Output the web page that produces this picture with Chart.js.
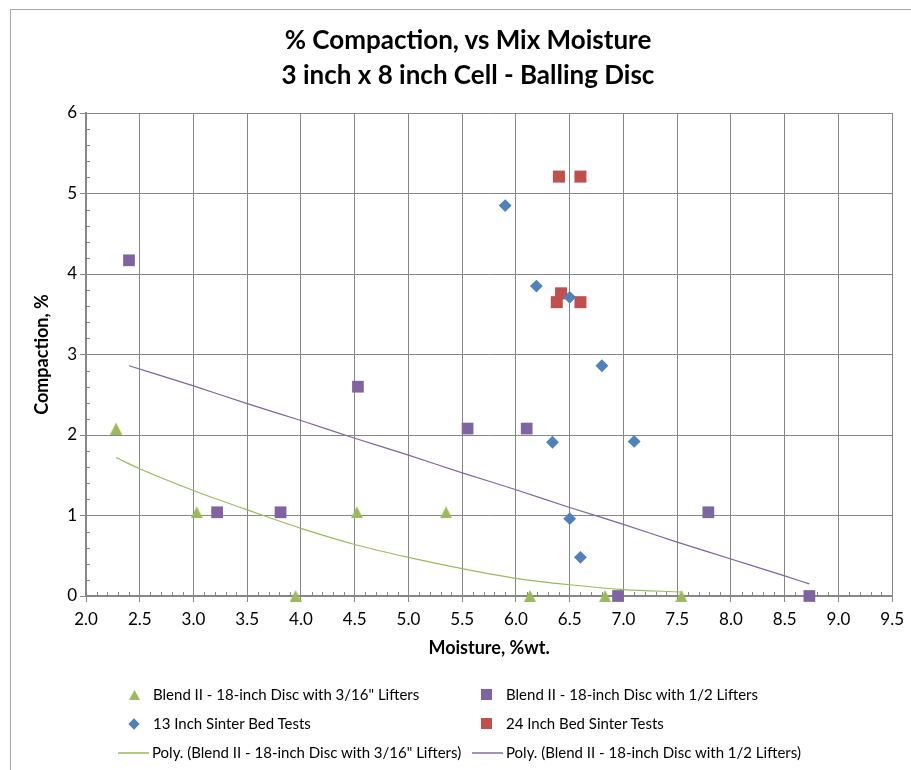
<!DOCTYPE html>
<html>
<head>
<meta charset="utf-8">
<script src="https://cdn.jsdelivr.net/npm/chart.js@4.4.1/dist/chart.umd.min.js"></script>
<style>
  html, body { margin: 0; padding: 0; background: #fff; width: 911px; height: 770px; overflow: hidden; }
  #frame { position: absolute; left: 10px; top: 9px; width: 1000px; height: 1000px; border: 1px solid #a6a6a6; box-sizing: border-box; }
  #chart { position: absolute; left: 0; top: 0; }
  #title { position: absolute; left: 10px; width: 916px; top: 22px; text-align: center;
           font: bold 26px Lato, sans-serif; line-height: 35px; color: #000; }
  .leg { position: absolute; font: 15px Lato, sans-serif; color: #000; white-space: nowrap; line-height: 18px; }
  .mk { position: absolute; }
  .tri { width: 11px; height: 10px; background: #9BBB59; clip-path: polygon(50% 0, 100% 100%, 0 100%); }
  .dia { width: 8px; height: 8px; background: #4F81BD; transform: rotate(45deg); }
  .sq { width: 11px; height: 11px; }
  .ln { width: 31px; height: 2px; }
</style>
</head>
<body>
<div id="frame"></div>
<canvas id="chart" width="911" height="770"></canvas>
<div id="title">% Compaction, vs Mix Moisture<br>3 inch x 8 inch Cell - Balling Disc</div>

<div class="mk tri" style="left:129px; top:690px;"></div>
<div class="leg" style="left:153px; top:685px;">Blend II - 18-inch Disc with 3/16" Lifters</div>
<div class="mk sq" style="left:481px; top:689px; background:#8064A2;"></div>
<div class="leg" style="left:506px; top:685px;">Blend II - 18-inch Disc with 1/2 Lifters</div>

<div class="mk dia" style="left:130px; top:720px;"></div>
<div class="leg" style="left:153px; top:714px;">13 Inch Sinter Bed Tests</div>
<div class="mk sq" style="left:481px; top:718px; background:#C0504D;"></div>
<div class="leg" style="left:506px; top:714px;">24 Inch Bed Sinter Tests</div>

<div class="mk ln" style="left:118px; top:752px; background:#b3cc84;"></div>
<div class="leg" style="left:152px; top:743px;">Poly. (Blend II - 18-inch Disc with 3/16" Lifters)</div>
<div class="mk ln" style="left:472px; top:752px; background:#a28fbf;"></div>
<div class="leg" style="left:506px; top:743px;">Poly. (Blend II - 18-inch Disc with 1/2 Lifters)</div>

<script>
// Blend II, 18-inch disc with 3/16" lifters
const lifter316Moisture   = [2.28, 3.03, 3.95, 4.52, 5.35, 6.13, 6.83, 7.54];
const lifter316Compaction = [2.08, 1.04, 0.00, 1.04, 1.04, 0.00, 0.00, 0.00];

// Blend II, 18-inch disc with 1/2 lifters
const lifter12Moisture   = [2.40, 3.22, 3.81, 4.53, 5.55, 6.10, 6.95, 7.79, 8.73];
const lifter12Compaction = [4.17, 1.04, 1.04, 2.60, 2.08, 2.08, 0.00, 1.04, 0.00];

// 13 inch sinter bed tests
const bed13Moisture   = [5.90, 6.19, 6.50, 6.80, 6.34, 7.10, 6.50, 6.60];
const bed13Compaction = [4.85, 3.85, 3.71, 2.86, 1.91, 1.92, 0.96, 0.48];

// 24 inch bed sinter tests
const bed24Moisture   = [6.40, 6.60, 6.42, 6.38, 6.60];
const bed24Compaction = [5.21, 5.21, 3.76, 3.65, 3.65];

// Polynomial trendlines, sampled along each curve
const trend316Moisture   = [2.28, 2.5, 3.0, 3.5, 4.0, 4.5, 5.0, 5.5, 6.0, 6.5, 7.0, 7.54];
const trend316Compaction = [1.72, 1.58, 1.31, 1.07, 0.84, 0.64, 0.48, 0.34, 0.22, 0.14, 0.08, 0.05];
const trend12Moisture    = [2.40, 3.0, 3.5, 4.0, 4.5, 5.0, 5.5, 6.0, 6.5, 7.0, 7.5, 8.0, 8.5, 8.73];
const trend12Compaction  = [2.86, 2.61, 2.39, 2.18, 1.96, 1.75, 1.53, 1.32, 1.10, 0.89, 0.67, 0.46, 0.25, 0.15];

// Axis ranges and tick spacing
const xRange = [2, 9.5], xStep = 0.5, xMinorStep = 0.1;
const yRange = [0, 6],   yStep = 1,   yMinorStep = 0.2;

const pts = (xs, ys) => xs.map((x, i) => ({ x, y: ys[i] }));

// Triangle marker centred on its box
function triangleMarker(color, w, h) {
  const c = document.createElement('canvas');
  c.width = w; c.height = h;
  const g = c.getContext('2d');
  g.fillStyle = color;
  g.beginPath();
  g.moveTo(w / 2, 0);
  g.lineTo(w, h);
  g.lineTo(0, h);
  g.closePath();
  g.fill();
  return c;
}

const gridColor = '#868686';

// Short inside minor tick marks on both axes
const minorTicks = {
  id: 'minorTicks',
  beforeDatasetsDraw(chart) {
    const { ctx, scales: { x, y } } = chart;
    ctx.save();
    ctx.strokeStyle = gridColor;
    ctx.lineWidth = 1;
    ctx.beginPath();
    const nx = Math.round((xRange[1] - xRange[0]) / xMinorStep);
    for (let i = 1; i < nx; i++) {
      if (i % Math.round(xStep / xMinorStep) === 0) continue;
      const px = Math.round(x.getPixelForValue(xRange[0] + i * xMinorStep)) + 0.5;
      ctx.moveTo(px, y.bottom);
      ctx.lineTo(px, y.bottom - 4);
    }
    const ny = Math.round((yRange[1] - yRange[0]) / yMinorStep);
    for (let j = 1; j < ny; j++) {
      if (j % Math.round(yStep / yMinorStep) === 0) continue;
      const py = Math.round(y.getPixelForValue(yRange[0] + j * yMinorStep)) + 0.5;
      ctx.moveTo(x.left, py);
      ctx.lineTo(x.left + 4, py);
    }
    ctx.stroke();
    ctx.restore();
  }
};

const tickFont = { family: 'Lato', size: 17 };
const axisTitleFont = { family: 'Lato', size: 18, weight: 'bold' };

new Chart(document.getElementById('chart'), {
  type: 'scatter',
  data: {
    datasets: [
      {
        label: 'Poly. (Blend II - 18-inch Disc with 3/16" Lifters)',
        data: pts(trend316Moisture, trend316Compaction),
        showLine: true, borderColor: '#9BBB59', borderWidth: 1.2,
        pointRadius: 0, cubicInterpolationMode: 'monotone', order: 1
      },
      {
        label: 'Poly. (Blend II - 18-inch Disc with 1/2 Lifters)',
        data: pts(trend12Moisture, trend12Compaction),
        showLine: true, borderColor: '#8064A2', borderWidth: 1.2,
        pointRadius: 0, cubicInterpolationMode: 'monotone', order: 1
      },
      {
        label: 'Blend II - 18-inch Disc with 3/16" Lifters',
        data: pts(lifter316Moisture, lifter316Compaction),
        pointStyle: triangleMarker('#9BBB59', 12, 12), pointRadius: 6,
        backgroundColor: '#9BBB59', borderWidth: 0, clip: false, order: 5
      },
      {
        label: 'Blend II - 18-inch Disc with 1/2 Lifters',
        data: pts(lifter12Moisture, lifter12Compaction),
        pointStyle: 'rect', pointRadius: 8.3,
        backgroundColor: '#8064A2', borderWidth: 0, clip: false, order: 4
      },
      {
        label: '13 Inch Sinter Bed Tests',
        data: pts(bed13Moisture, bed13Compaction),
        pointStyle: 'rectRot', pointRadius: 6.4,
        backgroundColor: '#4F81BD', borderWidth: 0, clip: false, order: 2
      },
      {
        label: '24 Inch Bed Sinter Tests',
        data: pts(bed24Moisture, bed24Compaction),
        pointStyle: 'rect', pointRadius: 8.5,
        backgroundColor: '#C0504D', borderWidth: 0, clip: false, order: 3
      }
    ]
  },
  options: {
    responsive: false,
    animation: false,
    layout: { padding: { left: 20, top: 113, right: 17, bottom: 110 } },
    plugins: { legend: { display: false }, title: { display: false }, tooltip: { enabled: false } },
    scales: {
      x: {
        type: 'linear', min: xRange[0], max: xRange[1],
        ticks: { stepSize: xStep, callback: v => v.toFixed(1), font: tickFont, color: '#000',
                 padding: 7, maxRotation: 0, autoSkip: false },
        grid: { color: gridColor, lineWidth: 1, tickLength: 6, tickColor: gridColor },
        border: { color: gridColor, width: 2 },
        title: { display: true, text: 'Moisture, %wt.', font: axisTitleFont, color: '#000',
                 padding: { top: 0, bottom: 1 } },
        afterFit(scale) { scale.height = 64; }
      },
      y: {
        type: 'linear', min: yRange[0], max: yRange[1],
        ticks: { stepSize: yStep, font: tickFont, color: '#000', padding: 3 },
        grid: { color: gridColor, lineWidth: 1, tickLength: 6, tickColor: gridColor },
        border: { color: gridColor, width: 2 },
        title: { display: true, text: 'Compaction, %', font: axisTitleFont, color: '#000',
                 padding: { top: 11, bottom: 0 } },
        afterFit(scale) { scale.width = 66; }
      }
    }
  },
  plugins: [minorTicks]
});
</script>
</body>
</html>
